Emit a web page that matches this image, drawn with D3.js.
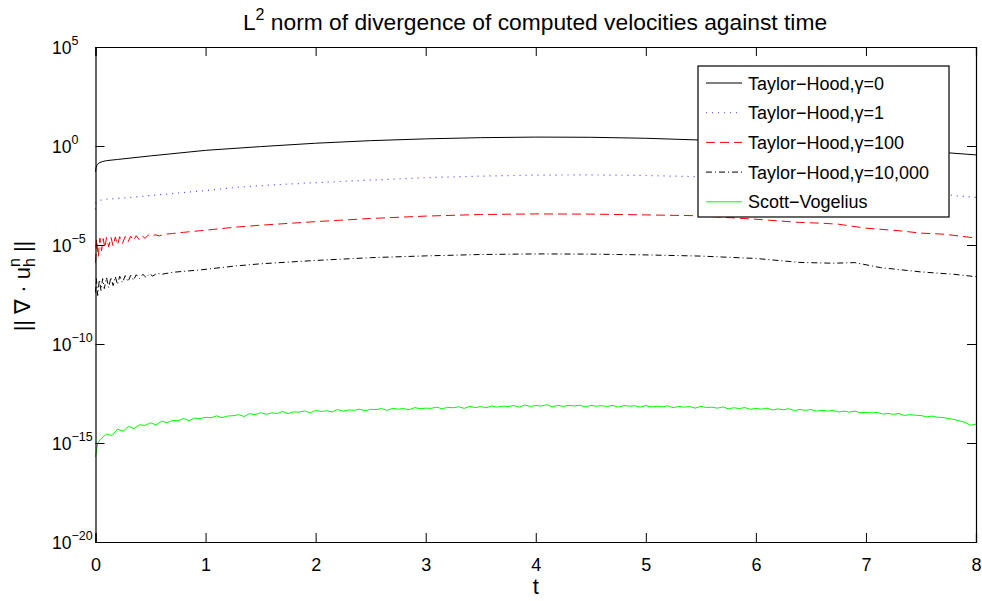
<!DOCTYPE html>
<html>
<head>
<meta charset="utf-8">
<script src="https://cdn.jsdelivr.net/npm/d3@7/dist/d3.min.js"></script>
<style>
  body { margin: 0; background: #fff; }
  text { font-family: "Liberation Sans", Arial, Helvetica, sans-serif; fill: #000; }
</style>
</head>
<body>
<div id="chart"></div>
<script>
// values are log10 of ||div u_h^n||, paired with t
var xTicks = [0, 1, 2, 3, 4, 5, 6, 7, 8];
var yTickExps = [5, 0, -5, -10, -15, -20];

var thGamma0 = [[0,-1.3],[0.005,-1.1],[0.015,-0.95],[0.03,-0.86],[0.06,-0.79],[0.1,-0.74],[0.2,-0.68],[0.5,-0.5],
  [1,-0.22],[1.5,-0.03],[2,0.14],[2.5,0.27],[3,0.36],[3.5,0.42],[4,0.45],[4.5,0.44],[5,0.39],[5.5,0.3],[6,0.18],
  [6.5,0.03],[7,-0.13],[7.5,-0.27],[7.76,-0.35],[8,-0.45]];

var thGamma1 = [[0,-3.2],[0.005,-2.85],[0.02,-2.78],[0.05,-2.73],[0.1,-2.69],[0.3,-2.6],[0.6,-2.45],[1,-2.25],
  [1.3,-2.08],[1.5,-2.0],[2,-1.85],[2.5,-1.72],[3,-1.6],[3.5,-1.52],[4,-1.47],[4.5,-1.46],[5,-1.49],[5.47,-1.55],
  [6,-1.68],[6.5,-1.85],[7,-2.05],[7.5,-2.3],[7.8,-2.5],[8,-2.6]];

var thGamma100 = [[0,-5.9],[0.01,-4.7],[0.025,-5.6],[0.04,-4.65],[0.055,-5.3],[0.07,-4.68],[0.085,-5.15],[0.1,-4.62],
  [0.12,-5.1],[0.14,-4.6],[0.16,-5.05],[0.18,-4.6],[0.2,-5.0],[0.22,-4.58],[0.245,-4.92],[0.27,-4.57],[0.295,-4.85],
  [0.32,-4.55],[0.345,-4.78],[0.37,-4.53],[0.395,-4.72],[0.42,-4.52],[0.45,-4.66],[0.48,-4.5],[0.51,-4.6],[0.54,-4.48],
  [0.58,-4.54],[0.62,-4.46],[0.7,-4.42],[0.8,-4.36],[0.95,-4.28],[1.27,-4.1],[1.5,-4.0],[2,-3.82],[2.5,-3.66],
  [3,-3.54],[3.5,-3.46],[4,-3.43],[4.5,-3.44],[5,-3.48],[5.47,-3.52],[6,-3.7],[6.4,-3.86],[6.6,-3.9],[6.75,-3.95],
  [7,-4.15],[7.3,-4.28],[7.5,-4.4],[7.7,-4.45],[7.9,-4.58],[8,-4.65]];

var thGamma10000 = [[0,-7.4],[0.008,-6.7],[0.02,-7.55],[0.035,-6.75],[0.05,-7.3],[0.065,-6.7],[0.08,-7.2],[0.1,-6.65],
  [0.12,-7.15],[0.14,-6.62],[0.16,-7.05],[0.18,-6.6],[0.2,-7.0],[0.22,-6.58],[0.245,-6.9],[0.27,-6.55],[0.295,-6.85],
  [0.32,-6.53],[0.345,-6.78],[0.37,-6.5],[0.4,-6.7],[0.43,-6.48],[0.46,-6.64],[0.49,-6.45],[0.52,-6.57],[0.56,-6.43],
  [0.6,-6.48],[0.7,-6.38],[0.8,-6.33],[0.95,-6.26],[1.27,-6.06],[1.5,-5.95],[2,-5.78],[2.5,-5.64],[3,-5.55],
  [3.5,-5.48],[4,-5.45],[4.5,-5.46],[5,-5.5],[5.5,-5.56],[6,-5.68],[6.4,-5.88],[6.7,-5.92],[6.9,-5.89],[7.13,-6.14],
  [7.5,-6.36],[7.8,-6.48],[8,-6.6]];

var scottVogelius = [[0,-15.7],[0.02,-15.0],[0.05,-14.78],[0.1,-14.55],[0.15,-14.62],[0.2,-14.3],[0.25,-14.4],
  [0.3,-14.16],[0.35,-14.27],[0.4,-14.08],[0.45,-14.11],[0.5,-13.98],[0.55,-14.09],[0.6,-13.9],[0.65,-13.97],
  [0.7,-13.86],[0.75,-13.88],[0.8,-13.76],[0.85,-13.87],[0.9,-13.74],[0.95,-13.77],[1,-13.7],[1.05,-13.73],
  [1.1,-13.63],[1.15,-13.72],[1.2,-13.64],[1.25,-13.62],[1.3,-13.57],[1.35,-13.66],[1.4,-13.52],[1.45,-13.57],
  [1.5,-13.47],[1.55,-13.55],[1.6,-13.48],[1.65,-13.51],[1.7,-13.41],[1.75,-13.52],[1.8,-13.43],[1.85,-13.44],
  [1.9,-13.38],[1.95,-13.48],[2,-13.35],[2.05,-13.41],[2.1,-13.37],[2.15,-13.43],[2.2,-13.31],[2.25,-13.39],
  [2.3,-13.33],[2.35,-13.35],[2.4,-13.29],[2.45,-13.38],[2.5,-13.3],[2.55,-13.31],[2.6,-13.26],[2.65,-13.35],
  [2.7,-13.25],[2.75,-13.29],[2.8,-13.26],[2.85,-13.32],[2.9,-13.21],[2.95,-13.27],[3,-13.24],[3.05,-13.25],
  [3.1,-13.19],[3.15,-13.27],[3.2,-13.2],[3.25,-13.22],[3.3,-13.17],[3.35,-13.25],[3.4,-13.15],[3.45,-13.21],
  [3.5,-13.16],[3.55,-13.22],[3.6,-13.13],[3.65,-13.19],[3.7,-13.14],[3.75,-13.16],[3.8,-13.11],[3.85,-13.19],
  [3.9,-13.08],[3.95,-13.15],[4,-13.11],[4.05,-13.13],[4.1,-13.07],[4.15,-13.17],[4.2,-13.1],[4.25,-13.15],
  [4.3,-13.1],[4.35,-13.13],[4.4,-13.09],[4.45,-13.18],[4.5,-13.1],[4.55,-13.14],[4.6,-13.12],[4.65,-13.15],
  [4.7,-13.1],[4.75,-13.19],[4.8,-13.11],[4.85,-13.14],[4.9,-13.12],[4.95,-13.19],[5,-13.11],[5.05,-13.18],
  [5.1,-13.14],[5.15,-13.17],[5.2,-13.12],[5.25,-13.22],[5.3,-13.15],[5.35,-13.19],[5.4,-13.16],[5.45,-13.24],
  [5.5,-13.15],[5.55,-13.21],[5.6,-13.19],[5.65,-13.24],[5.7,-13.18],[5.75,-13.27],[5.8,-13.22],[5.85,-13.26],
  [5.9,-13.21],[5.95,-13.3],[6,-13.25],[6.05,-13.29],[6.1,-13.24],[6.15,-13.33],[6.2,-13.28],[6.25,-13.32],
  [6.3,-13.27],[6.35,-13.36],[6.4,-13.31],[6.45,-13.35],[6.5,-13.31],[6.55,-13.39],[6.6,-13.35],[6.65,-13.39],
  [6.7,-13.35],[6.75,-13.43],[6.8,-13.39],[6.85,-13.44],[6.9,-13.39],[6.95,-13.47],[7,-13.45],[7.05,-13.48],
  [7.1,-13.45],[7.15,-13.54],[7.2,-13.51],[7.25,-13.55],[7.3,-13.51],[7.35,-13.61],[7.4,-13.57],[7.45,-13.6],
  [7.5,-13.61],[7.55,-13.68],[7.6,-13.64],[7.65,-13.7],[7.7,-13.71],[7.75,-13.76],[7.8,-13.81],[7.85,-13.88],
  [7.9,-13.96],[7.95,-14.1],[8,-14.05]];

var seriesNames = ["Taylor\u2212Hood,\u03b3=0", "Taylor\u2212Hood,\u03b3=1", "Taylor\u2212Hood,\u03b3=100",
  "Taylor\u2212Hood,\u03b3=10,000", "Scott\u2212Vogelius"];
var seriesData = [thGamma0, thGamma1, thGamma100, thGamma10000, scottVogelius];
var seriesColors = ["#000000", "#4444ff", "#ff0000", "#000000", "#00ff00"];
var seriesDash = [null, "1,5", "9,5", "6,3,1,3", null];

var W = 982, H = 601;
var margin = {top: 47, right: 6, bottom: 59, left: 95.5};
var iw = W - margin.left - margin.right;
var ih = H - margin.top - margin.bottom;

var svg = d3.select("#chart").append("svg")
  .attr("width", W)
  .attr("height", H);

var x = d3.scaleLinear().domain([0, 8]).range([0, iw]);
var y = d3.scaleLog().domain([1e-20, 1e5]).range([ih, 0]);

var g = svg.append("g")
  .attr("transform", `translate(${margin.left},${margin.top})`);

g.append("rect")
  .attr("width", iw).attr("height", ih)
  .attr("fill", "#fff");

// lines
var line = d3.line()
  .x(d => x(d[0]))
  .y(d => y(Math.pow(10, d[1])));

seriesData.forEach((s, i) => {
  g.append("path")
    .attr("d", line(s))
    .attr("fill", "none")
    .attr("stroke", seriesColors[i])
    .attr("stroke-width", i == 1 ? 1.2 : 1)
    .attr("stroke-dasharray", seriesDash[i]);
});

// axes box with inward ticks
var tickLen = 9;
var xAxis = d3.axisBottom(x).tickValues(xTicks).tickSize(-tickLen).tickPadding(16).tickFormat(d3.format("d"));
var xTop = d3.axisTop(x).tickValues(xTicks).tickSize(-tickLen).tickFormat("");
var yTickVals = yTickExps.map(e => Math.pow(10, e));
var yAxis = d3.axisLeft(y).tickValues(yTickVals).tickSize(-tickLen).tickFormat("");
var yRight = d3.axisRight(y).tickValues(yTickVals).tickSize(-tickLen).tickFormat("");

var gx = g.append("g").attr("transform", `translate(0,${ih})`).call(xAxis);
g.append("g").call(xTop);
g.append("g").call(yAxis);
g.append("g").attr("transform", `translate(${iw},0)`).call(yRight);

g.selectAll(".domain").attr("stroke", "#000").attr("stroke-width", 1.2);
g.selectAll(".tick line").attr("stroke", "#000").attr("stroke-width", 1);
gx.selectAll(".tick text")
  .attr("font-size", "18px")
  .attr("font-family", "Liberation Sans, Arial, sans-serif")
  .attr("fill", "#000");

// y tick labels as 10^e
yTickExps.forEach(e => {
  var t = svg.append("text")
    .attr("x", 52)
    .attr("y", margin.top + y(Math.pow(10, e)) + 7)
    .attr("font-size", "17.5px");
  t.append("tspan").text("10");
  t.append("tspan")
    .attr("dy", -9)
    .attr("font-size", "12.5px")
    .text(e < 0 ? "\u2212" + Math.abs(e) : String(e));
});

// title
var title = svg.append("text")
  .attr("x", 535)
  .attr("y", 30)
  .attr("text-anchor", "middle")
  .attr("font-size", "22.8px");
title.append("tspan").text("L");
title.append("tspan").attr("dy", -10).attr("font-size", "16px").text("2");
title.append("tspan").attr("dy", 10).text(" norm of divergence of computed velocities against time");

// x label
svg.append("text")
  .attr("x", margin.left + iw / 2)
  .attr("y", 594)
  .attr("text-anchor", "middle")
  .attr("font-size", "22px")
  .text("t");

// y label
var yl = svg.append("text")
  .attr("transform", `translate(30,${margin.top + 239}) rotate(-90)`)
  .attr("text-anchor", "middle")
  .attr("font-size", "22px");
yl.append("tspan").text("|| \u2207 \u00b7 u");
yl.append("tspan").attr("dy", 5).attr("font-size", "16px").text("h");
yl.append("tspan").attr("dx", -9).attr("dy", -15).attr("font-size", "16px").text("n");
yl.append("tspan").attr("dy", 10).text(" ||");

// legend
var lg = svg.append("g").attr("transform", "translate(698,66)");
lg.append("rect")
  .attr("width", 251).attr("height", 151)
  .attr("fill", "#fff")
  .attr("stroke", "#000")
  .attr("stroke-width", 1.2);

seriesNames.forEach((name, i) => {
  var ry = 17 + i * 29.7;
  lg.append("line")
    .attr("x1", 8).attr("x2", 44)
    .attr("y1", ry).attr("y2", ry)
    .attr("stroke", seriesColors[i])
    .attr("stroke-width", 1)
    .attr("stroke-dasharray", seriesDash[i]);
  lg.append("text")
    .attr("x", 50)
    .attr("y", ry + 6.5)
    .attr("font-size", "18px")
    .text(name);
});
</script>
</body>
</html>
